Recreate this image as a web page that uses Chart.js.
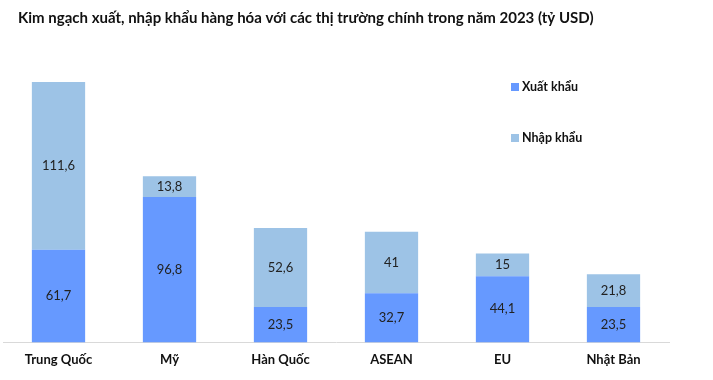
<!DOCTYPE html>
<html>
<head>
<meta charset="utf-8">
<script src="https://cdn.jsdelivr.net/npm/chart.js@4"></script>
<style>
html,body{margin:0;padding:0;background:#fff;}
#wrap{width:713px;height:380px;position:relative;}
</style>
</head>
<body>
<div id="wrap"><canvas id="c" width="713" height="380"></canvas></div>
<script>
const categories = ["Trung Quốc", "Mỹ", "Hàn Quốc", "ASEAN", "EU", "Nhật Bản"];
const exportValues = [61.7, 96.8, 23.5, 32.7, 44.1, 23.5];
const importValues = [111.6, 13.8, 52.6, 41, 15, 21.8];
const seriesNames = ["Xuất khẩu", "Nhập khẩu"];
const titleText = "Kim ngạch xuất, nhập khẩu hàng hóa với các thị trường chính trong năm 2023 (tỷ USD)";

const FONT = "Lato, 'Open Sans', sans-serif";
const exportColor = "#6699FF";
const importColor = "#9DC3E6";

const fmt = v => String(v).replace('.', ',');

const labelPlugin = {
  id: 'valueLabels',
  afterDatasetsDraw(chart) {
    const ctx = chart.ctx;
    ctx.save();
    ctx.font = "13px " + FONT;
    ctx.fillStyle = "#222";
    ctx.textAlign = "center";
    ctx.textBaseline = "middle";
    chart.data.datasets.forEach((ds, di) => {
      const meta = chart.getDatasetMeta(di);
      meta.data.forEach((bar, i) => {
        const y = (bar.y + bar.base) / 2;
        ctx.fillText(fmt(ds.data[i]), bar.x, y);
      });
    });
    ctx.restore();
  }
};

const decorPlugin = {
  id: 'decor',
  afterDraw(chart) {
    const ctx = chart.ctx;
    ctx.save();
    ctx.font = "bold 15px " + FONT;
    ctx.fillStyle = "#111";
    ctx.textAlign = "left";
    ctx.textBaseline = "middle";
    ctx.fillText(titleText, 18, 18);
    // legend
    const items = [[seriesNames[0], exportColor, 87], [seriesNames[1], importColor, 138]];
    ctx.font = "bold 12.5px " + FONT;
    items.forEach(([t, c, y]) => {
      ctx.fillStyle = c;
      ctx.fillRect(511, y - 4, 8, 8);
      ctx.fillStyle = "#111";
      ctx.fillText(t, 522, y);
    });
    ctx.restore();
  }
};

new Chart(document.getElementById('c'), {
  type: 'bar',
  data: {
    labels: categories,
    datasets: [
      { label: seriesNames[0], data: exportValues, backgroundColor: exportColor,
        categoryPercentage: 1, barPercentage: 0.48, borderWidth: 0 },
      { label: seriesNames[1], data: importValues, backgroundColor: importColor,
        categoryPercentage: 1, barPercentage: 0.48, borderWidth: 0 }
    ]
  },
  options: {
    responsive: false,
    animation: false,
    layout: { padding: { left: 3, right: 44, top: 72, bottom: 2 } },
    plugins: {
      legend: { display: false },
      tooltip: { enabled: false },
      title: { display: false }
    },
    scales: {
      x: {
        stacked: true,
        grid: { display: false, drawTicks: false },
        border: { display: true, color: "#D9D9D9", width: 1 },
        ticks: { color: "#111", font: { family: FONT, size: 13, weight: 'bold' }, padding: 10 }
      },
      y: {
        stacked: true,
        display: false,
        min: 0,
        max: 180
      }
    }
  },
  plugins: [labelPlugin, decorPlugin]
});
</script>
</body>
</html>
